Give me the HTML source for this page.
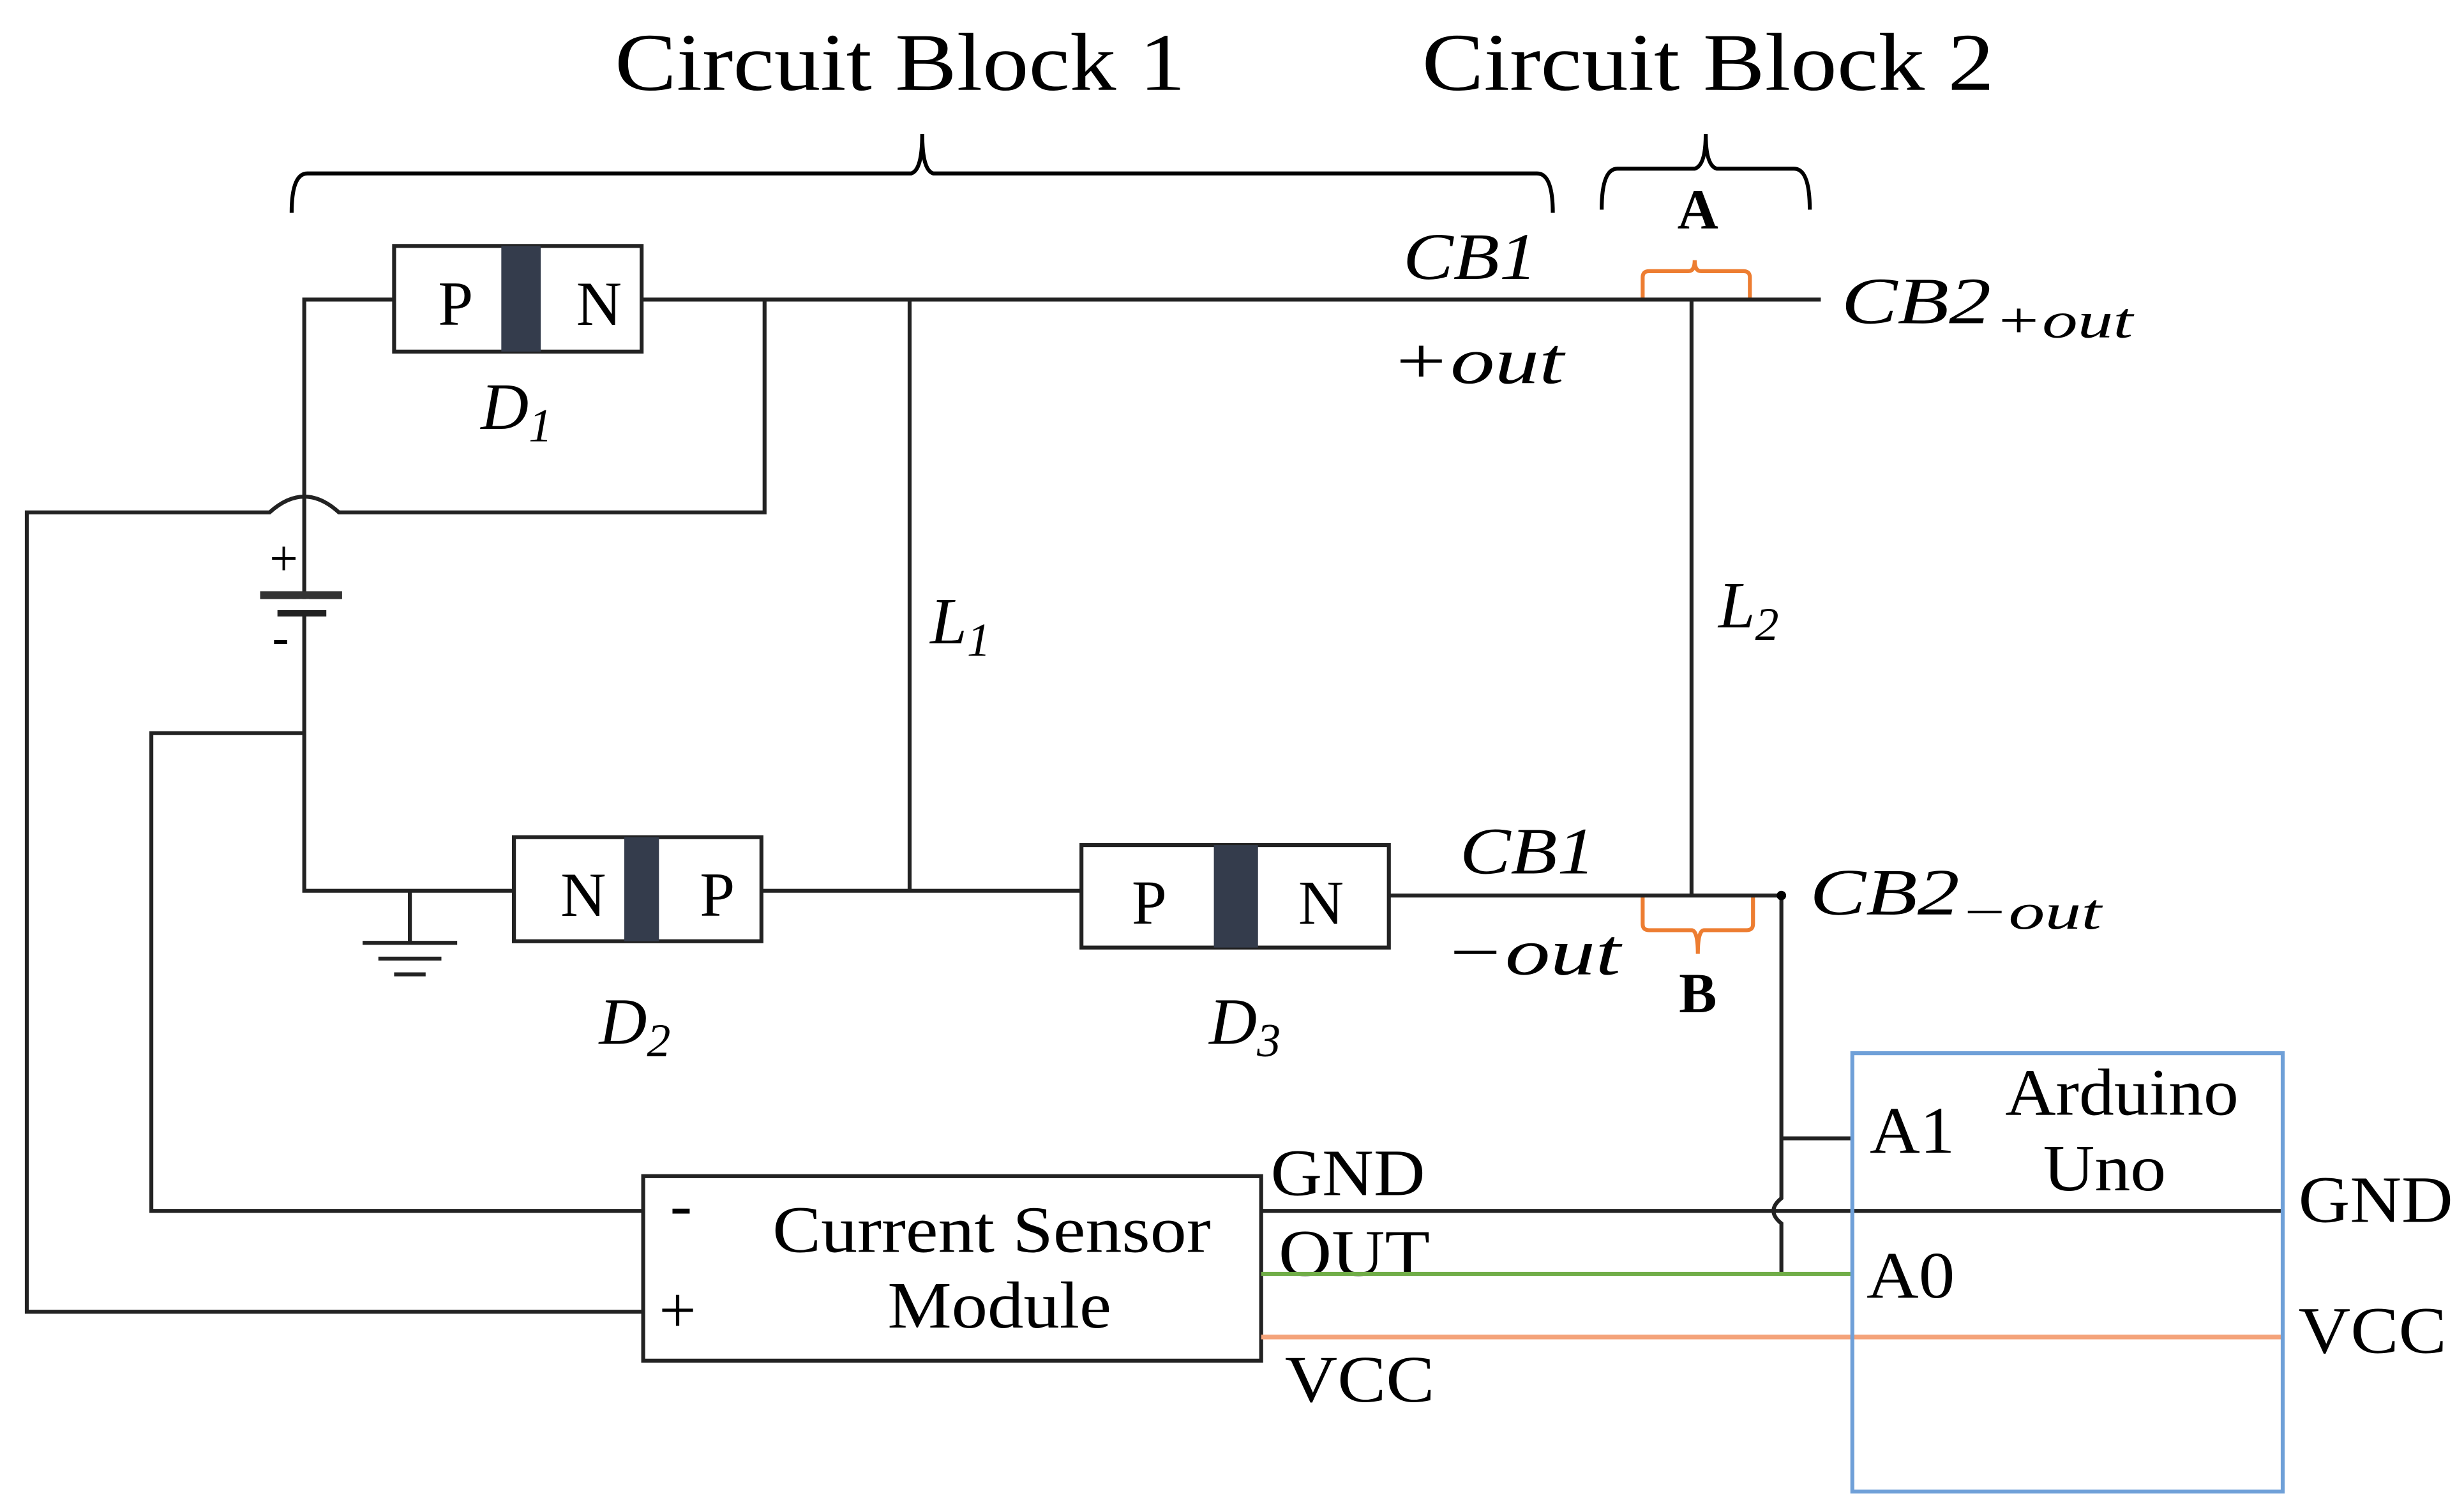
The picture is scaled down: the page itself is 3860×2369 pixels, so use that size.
<!DOCTYPE html>
<html><head><meta charset="utf-8"><style>html,body{margin:0;padding:0;background:#fff}svg{display:block}</style></head>
<body>
<svg width="3860" height="2369" viewBox="0 0 1563 959" preserveAspectRatio="none" xmlns="http://www.w3.org/2000/svg" font-family="'Liberation Serif', serif">
<rect width="1563" height="959" fill="#fff"/>
<g fill="#000">
<text x="390" y="57" font-size="52" textLength="362" lengthAdjust="spacingAndGlyphs">Circuit Block 1</text>
<text x="902" y="57" font-size="52" textLength="363" lengthAdjust="spacingAndGlyphs">Circuit Block 2</text>
</g>
<g fill="none" stroke="#000" stroke-width="2.5">
<path d="M185,135 Q185,110 195,110 L578,110 Q585,108 585,85 Q585,108 592,110 L975,110 Q985,110 985,135"/>
<path d="M1016,133 Q1016,107 1026,107 L1075,107 Q1082,105 1082,85 Q1082,105 1089,107 L1138,107 Q1148,107 1148,133"/>
</g>
<text x="1077" y="145" font-size="36" font-weight="bold" text-anchor="middle">A</text>
<text x="1077" y="642" font-size="36" font-weight="bold" text-anchor="middle">B</text>
<g fill="none" stroke="#ed7d31" stroke-width="2.5">
<path d="M1042,190 L1042,176 Q1042,172 1046,172 L1071,172 Q1075,172 1075,165 Q1075,172 1079,172 L1106,172 Q1110,172 1110,176 L1110,190"/>
<path d="M1042,568 L1042,586 Q1042,590 1046,590 L1073,590 Q1077,590 1077,605 Q1077,590 1081,590 L1108,590 Q1112,590 1112,586 L1112,568"/>
</g>
<g fill="none" stroke="#222" stroke-width="2.5">
<path d="M407,190 L1155,190"/>
<path d="M250,190 L193,190 L193,565 L326,565"/>
<path d="M485,190 L485,325 L215,325 Q193,305 171,325 L17,325 L17,832 L408,832"/>
<path d="M193,465 L96,465 L96,768 L408,768"/>
<path d="M577,190 L577,565 M483,565 L686,565"/>
<path d="M1073,190 L1073,568 M881,568 L1130,568"/>
<path d="M1130,568 L1130,760 Q1120,768 1130,776 L1130,808 M1130,722 L1175,722"/>
<path d="M260,565 L260,598 M230,598 L290,598 M240,608 L280,608 M250,618 L270,618"/>
<path d="M800,768 L1448,768"/>
</g>
<circle cx="1130" cy="568" r="3" fill="#000"/>
<rect x="165" y="375" width="52" height="5" fill="#333"/>
<rect x="176" y="387" width="31" height="4" fill="#222"/>
<rect x="190" y="380" width="6" height="7" fill="#fff"/>
<text x="180" y="365" font-size="32" text-anchor="middle">+</text>
<text x="178" y="415" font-size="32" text-anchor="middle">-</text>
<g stroke="#222" stroke-width="2.5" fill="#fff">
<rect x="250" y="156" width="157" height="67"/>
<rect x="326" y="531" width="157" height="66"/>
<rect x="686" y="536" width="195" height="65"/>
</g>
<g fill="#343c4c">
<rect x="318" y="156" width="25" height="67"/>
<rect x="396" y="531" width="22" height="66"/>
<rect x="770" y="536" width="28" height="65"/>
</g>
<g font-size="40" text-anchor="middle">
<text x="289" y="206">P</text><text x="380" y="206">N</text>
<text x="370" y="581">N</text><text x="455" y="581">P</text>
<text x="729" y="586">P</text><text x="838" y="586">N</text>
</g>
<g font-style="italic" font-size="42">
<text x="305" y="272">D<tspan font-size="30" dy="8">1</tspan></text>
<text x="380" y="662">D<tspan font-size="30" dy="8">2</tspan></text>
<text x="767" y="662">D<tspan font-size="30" dy="8">3</tspan></text>
<text x="590" y="408">L<tspan font-size="30" dy="8">1</tspan></text>
<text x="1090" y="398">L<tspan font-size="30" dy="8">2</tspan></text>
<text x="890" y="177" textLength="85" lengthAdjust="spacingAndGlyphs">CB1</text>
<text x="882" y="243" textLength="110" lengthAdjust="spacingAndGlyphs">+out</text>
<text x="926" y="554" textLength="86" lengthAdjust="spacingAndGlyphs">CB1</text>
<text x="916" y="618" textLength="112" lengthAdjust="spacingAndGlyphs">−out</text>
<text x="1168" y="205" textLength="95" lengthAdjust="spacingAndGlyphs">CB2</text>
<text x="1265" y="214" font-size="32" textLength="88" lengthAdjust="spacingAndGlyphs">+out</text>
<text x="1148" y="580" textLength="95" lengthAdjust="spacingAndGlyphs">CB2</text>
<text x="1243" y="589" font-size="32" textLength="90" lengthAdjust="spacingAndGlyphs">−out</text>
</g>
<rect x="408" y="746" width="392" height="117" fill="none" stroke="#222" stroke-width="2.5"/>
<g font-size="42">
<text x="490" y="794" textLength="278" lengthAdjust="spacingAndGlyphs">Current Sensor</text>
<text x="563" y="842" textLength="142" lengthAdjust="spacingAndGlyphs">Module</text>
<text x="425" y="778">-</text>
<text x="418" y="845">+</text>
<text x="806" y="758" textLength="98" lengthAdjust="spacingAndGlyphs">GND</text>
<text x="811" y="809" textLength="96" lengthAdjust="spacingAndGlyphs">OUT</text>
<text x="815" y="889" textLength="95" lengthAdjust="spacingAndGlyphs">VCC</text>
<text x="1458" y="775" textLength="98" lengthAdjust="spacingAndGlyphs">GND</text>
<text x="1458" y="858" textLength="94" lengthAdjust="spacingAndGlyphs">VCC</text>
<text x="1272" y="707" textLength="148" lengthAdjust="spacingAndGlyphs">Arduino</text>
<text x="1296" y="755" textLength="78" lengthAdjust="spacingAndGlyphs">Uno</text>
<text x="1186" y="731" textLength="54" lengthAdjust="spacingAndGlyphs">A1</text>
<text x="1184" y="823" textLength="56" lengthAdjust="spacingAndGlyphs">A0</text>
</g>
<path d="M800,808 L1175,808" stroke="#70ad47" stroke-width="2.5"/>
<path d="M800,848 L1448,848" stroke="#f4a37a" stroke-width="3"/>
<rect x="1175" y="668" width="273" height="278" fill="none" stroke="#6fa0d8" stroke-width="2.5"/>
</svg>
</body></html>
